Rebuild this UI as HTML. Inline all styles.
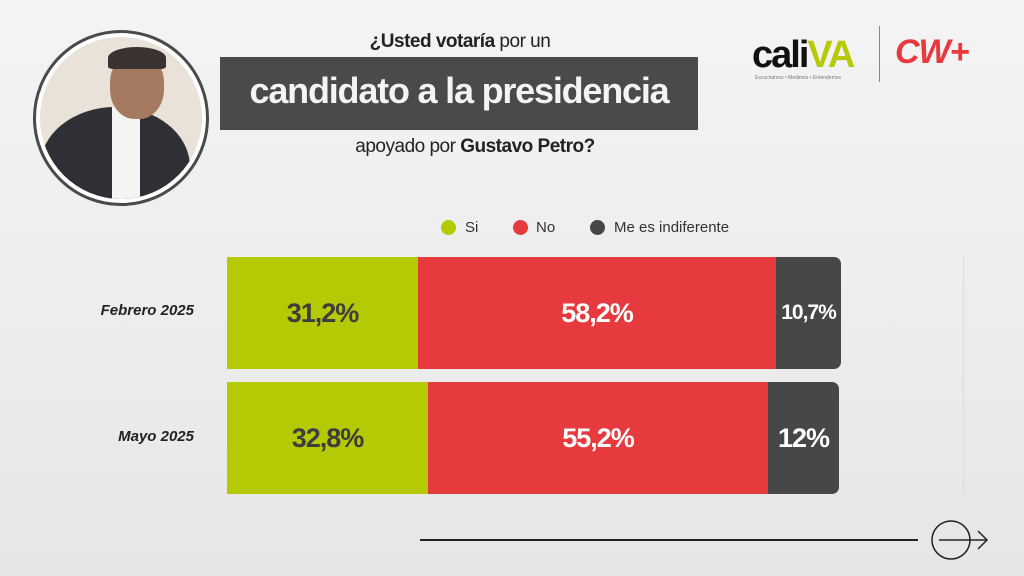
<!DOCTYPE html>
<html><head><meta charset="utf-8"><style>
body{margin:0;width:1024px;height:576px;overflow:hidden;background:#efefef;font-family:"Liberation Sans",sans-serif;position:relative}
.a{position:absolute}
.bar{position:absolute;display:flex;align-items:center;justify-content:center;font-weight:bold;font-size:27px;letter-spacing:-1px}
.g{background:#b5c904;color:#3d3d3d}
.r{background:#e63a3e;color:#fff}
.d{background:#474747;color:#fff;border-radius:0 7px 7px 0}
.lab{position:absolute;right:830px;font-style:italic;font-weight:bold;font-size:15px;color:#222}
.dot{position:absolute;width:15px;height:15px;border-radius:50%;top:220px}
.lg{position:absolute;top:219px;font-size:15px;color:#333}
</style></head><body>
<div class="a" style="left:0;top:0;width:1024px;height:576px;background:linear-gradient(180deg,#f4f4f4 0%,#ececec 60%,#e6e6e6 100%)"></div>
<div class="a" style="left:33px;top:30px;width:170px;height:170px;border-radius:50%;border:3px solid #4a4a4a;background:#fff"></div>
<div class="a" style="left:40px;top:37px;width:162px;height:162px;border-radius:50%;overflow:hidden;background:#e8e2d8">
 <div class="a" style="left:0px;top:70px;width:150px;height:120px;background:#2f3035;border-radius:50% 50% 0 0"></div>
 <div class="a" style="left:72px;top:70px;width:28px;height:95px;background:#f4f4f4"></div>
 <div class="a" style="left:70px;top:16px;width:54px;height:66px;background:#a57a60;border-radius:45%"></div>
 <div class="a" style="left:68px;top:10px;width:58px;height:22px;background:#3a3230;border-radius:50% 50% 10% 10%"></div>
</div>
<div class="a" style="left:220px;top:57px;width:478px;height:73px;background:#4a4a4a"></div>
<div class="a" style="left:220px;top:70px;width:478px;text-align:center;color:#f4f4f4;font-weight:bold;font-size:36px;letter-spacing:-1.2px">candidato a la presidencia</div>
<div class="a" style="left:300px;top:31px;width:320px;text-align:center;font-size:19px;color:#222;letter-spacing:-0.5px"><b>¿Usted votaría</b> por un</div>
<div class="a" style="left:300px;top:136px;width:350px;text-align:center;font-size:19px;color:#222;letter-spacing:-0.5px">apoyado por <b>Gustavo Petro?</b></div>
<div class="a" style="left:752px;top:34px;font-weight:bold;font-size:38px;letter-spacing:-2px;color:#111">cali<span style="color:#b5c904">VA</span></div>
<div class="a" style="left:755px;top:75px;font-size:5px;color:#777">Escuchamos • Medimos • Entendemos</div>
<div class="a" style="left:879px;top:26px;width:1px;height:56px;background:#888"></div>
<div class="a" style="left:895px;top:33px;font-weight:bold;font-style:italic;font-size:34px;color:#e63a3e;letter-spacing:-1px">CW+</div>
<div class="dot" style="left:441px;background:#b5c904"></div><div class="lg" style="left:465px">Si</div>
<div class="dot" style="left:513px;background:#e63a3e"></div><div class="lg" style="left:536px">No</div>
<div class="dot" style="left:590px;background:#474747"></div><div class="lg" style="left:614px">Me es indiferente</div>
<div class="lab" style="top:302px">Febrero 2025</div>
<div class="lab" style="top:428px">Mayo 2025</div>
<div class="bar g" style="left:227px;top:257px;width:191px;height:112px">31,2%</div>
<div class="bar r" style="left:418px;top:257px;width:358px;height:112px">58,2%</div>
<div class="bar d" style="left:776px;top:257px;width:65px;height:112px;font-size:21px">10,7%</div>
<div class="bar g" style="left:227px;top:382px;width:201px;height:112px">32,8%</div>
<div class="bar r" style="left:428px;top:382px;width:340px;height:112px">55,2%</div>
<div class="bar d" style="left:768px;top:382px;width:71px;height:112px">12%</div>
<div class="a" style="left:963px;top:255px;width:1px;height:240px;background:#ddd"></div>
<div class="a" style="left:420px;top:539px;width:498px;height:1.5px;background:#222"></div>
<svg class="a" style="left:925px;top:518px" width="70" height="46"><circle cx="26" cy="22" r="19" fill="none" stroke="#222" stroke-width="1.5"/><line x1="14" y1="22" x2="62" y2="22" stroke="#222" stroke-width="1.5"/><polyline points="53,13 62,22 53,31" fill="none" stroke="#222" stroke-width="1.5"/></svg>
</body></html>
